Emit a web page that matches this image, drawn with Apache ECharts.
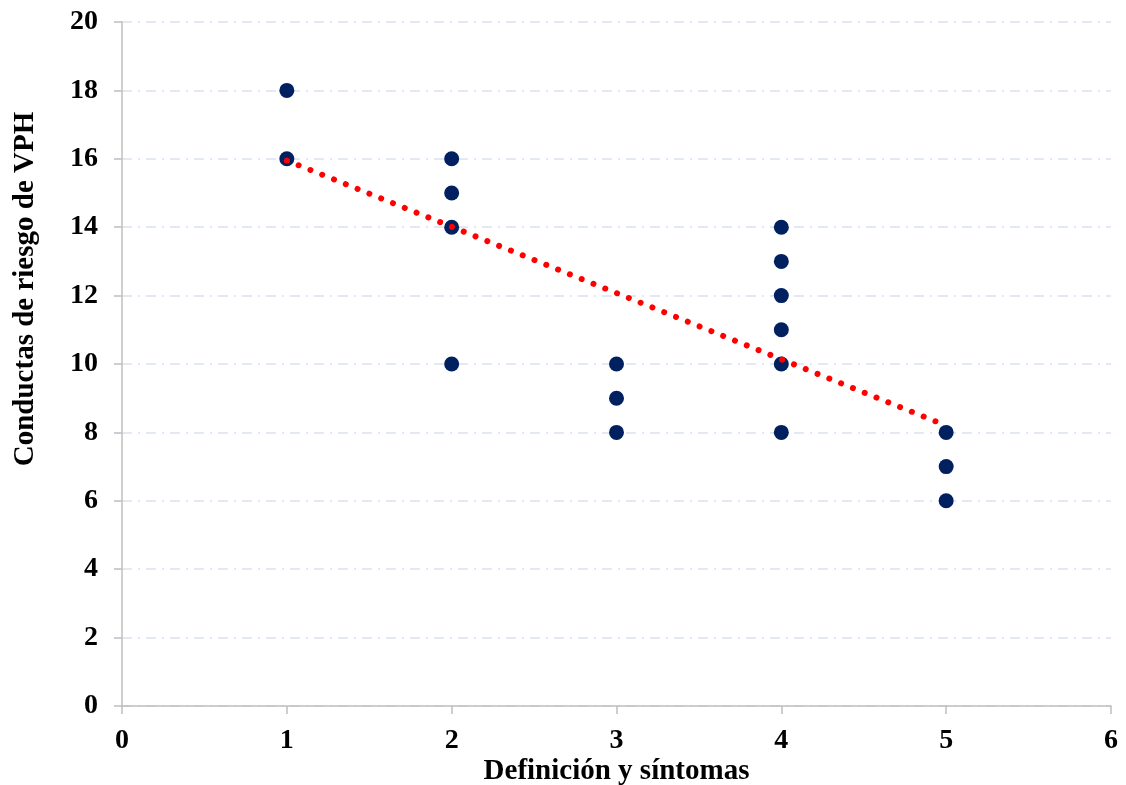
<!DOCTYPE html>
<html><head><meta charset="utf-8">
<script src="https://cdn.jsdelivr.net/npm/echarts@6/dist/echarts.min.js"></script>
<style>html,body{margin:0;padding:0;background:#fff}#c{width:1126px;height:785px}</style>
</head><body><div id="c"></div>
<script>
const xTitle = 'Definición y síntomas';
const yTitle = 'Conductas de riesgo de VPH';
const xValues = [1,1,2,2,2,2,3,3,3,4,4,4,4,4,4,5,5,5];
const yValues = [18,16,16,15,14,10,10,9,8,14,13,12,11,10,8,8,7,6];
const trendX = [1,5];
const trendY = [15.95,8.2];
const points = xValues.map((x,i)=>[x,yValues[i]]);
const trend = trendX.map((x,i)=>[x,trendY[i]]);
const font = 'Liberation Serif';
const chart = echarts.init(document.getElementById('c'));
chart.setOption({
  animation:false,
  grid:{left:122,right:15,top:22,bottom:79,containLabel:false,outerBoundsMode:'none'},
  xAxis:{type:'value',min:0,max:6,interval:1,
    axisLine:{lineStyle:{color:'#bfbfbf',width:1.5}},
    axisTick:{show:true,length:8,lineStyle:{color:'#bfbfbf',width:1.5}},
    splitLine:{show:false},
    axisLabel:{color:'#000',fontFamily:font,fontWeight:'bold',fontSize:28,margin:21},
    name:xTitle,nameLocation:'middle',nameGap:51,nameMoveOverlap:false,
    nameTextStyle:{color:'#000',fontFamily:font,fontWeight:'bold',fontSize:29}},
  yAxis:{type:'value',min:0,max:20,interval:2,
    axisLine:{show:true,lineStyle:{color:'#bfbfbf',width:1.5}},
    axisTick:{show:true,length:8,lineStyle:{color:'#bfbfbf',width:1.5}},
    splitLine:{show:true,lineStyle:{color:'#d9e1f2',width:1.5,type:[10,6,2,6]}},
    axisLabel:{color:'#000',fontFamily:font,fontWeight:'bold',fontSize:28,margin:24}},
  graphic:[{type:'text',x:26,y:289,rotation:Math.PI/2,
    style:{text:yTitle,fill:'#000',font:'bold 29px "Liberation Serif"',align:'center',verticalAlign:'middle'}}],
  series:[
    {type:'scatter',data:points,symbolSize:15,itemStyle:{color:'#002060',opacity:1},z:2},
    {type:'line',data:trend,symbol:'none',z:3,
      lineStyle:{color:'#ff0000',width:6,type:[0.01,12.7],cap:'round'}}
  ]
});
</script></body></html>
